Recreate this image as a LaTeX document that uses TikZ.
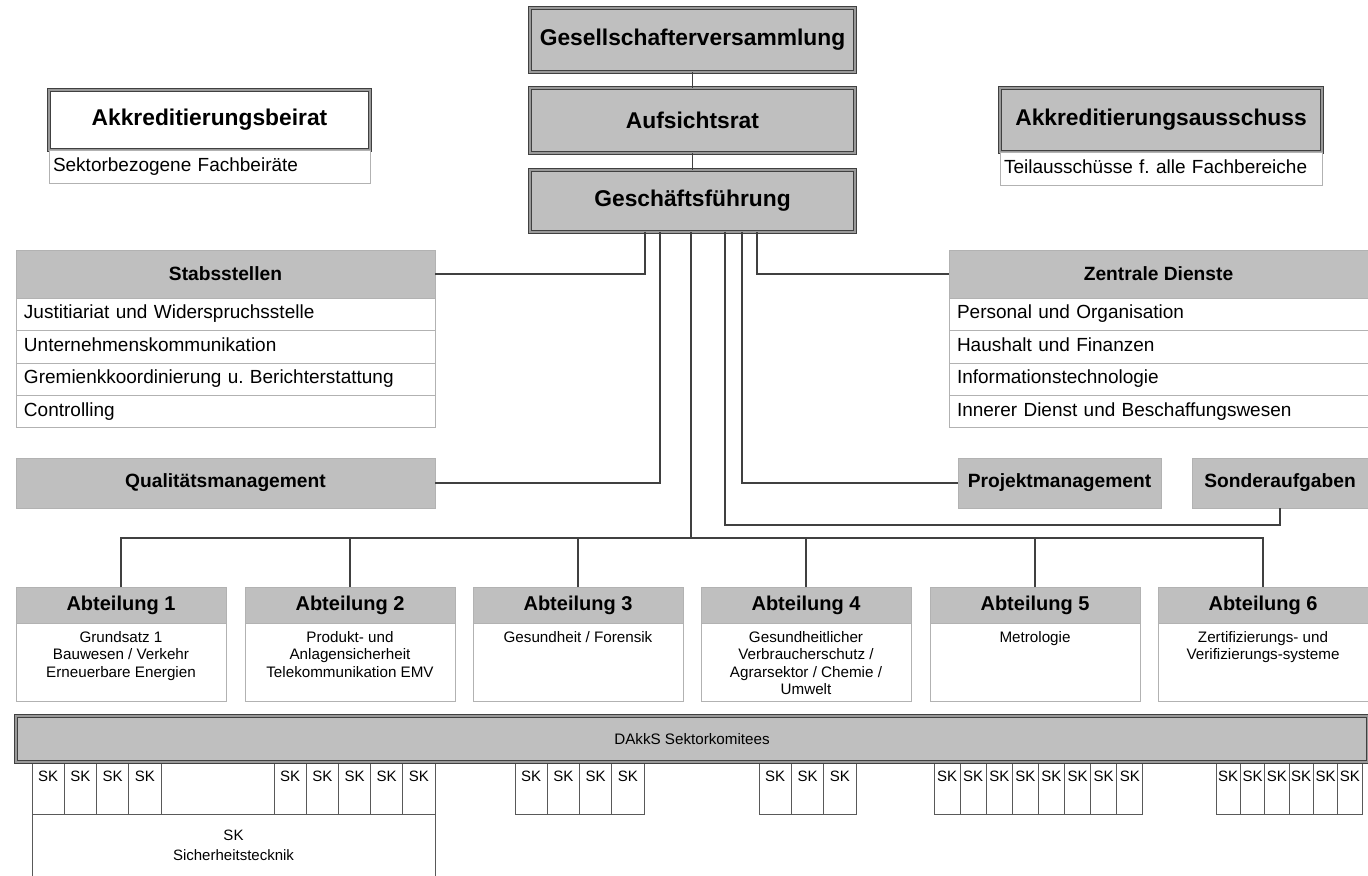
\documentclass[tikz,border=0pt]{standalone}
\usepackage{fontspec}
\setmainfont{Liberation Sans}
\usetikzlibrary{positioning}
\newlength{\unitpx}\setlength{\unitpx}{0.5pt}
\frenchspacing

\begin{document}
\begin{tikzpicture}[x=0.5pt,y=-0.5pt]
	\def \headrow{250}
	\def \qmrow{458}
	\def \busline{538}
	\def \abtrow{587}
	\def \skrow{762}
	\tikzstyle{top-box}=[draw=black!75,double=black!40,double distance=0.7pt,line width=0.55pt,fill=black!25,anchor=north west,inner sep=0pt,outer sep=0pt,font=\bfseries\fontsize{11.4}{13}\selectfont]
	\tikzstyle{unit-box}=[draw=black!30,line width=0.4pt,fill=black!25,anchor=north west,inner sep=0pt,outer sep=0pt,font=\bfseries\fontsize{9.6}{11}\selectfont]
	\tikzstyle{row-box}=[draw=black!30,line width=0.4pt,fill=white,anchor=north west,inner ysep=0pt,inner xsep=4pt,outer sep=0pt,align=left,text height=7pt,text depth=2pt,font=\fontsize{9.5}{11}\selectfont]
	\tikzstyle{abt-head}=[unit-box,minimum width=210\unitpx,minimum height=36\unitpx,font=\bfseries\fontsize{10}{12}\selectfont]
	\tikzstyle{abt-body}=[draw=black!30,line width=0.4pt,fill=white,anchor=north west,inner sep=0pt,outer sep=0pt,minimum width=210\unitpx,minimum height=78\unitpx]
	\tikzstyle{abt-txt}=[inner sep=0pt,align=center,font=\fontsize{7.6}{8.75}\selectfont]
	\tikzstyle{sk-box}=[draw=black!65,line width=0.4pt,fill=white,anchor=north west,inner sep=0pt,outer sep=0pt,minimum height=52\unitpx,text height=6pt,text depth=12.5pt,font=\fontsize{7.5}{9}\selectfont]
	\tikzstyle{sk-big}=[draw=black!65,line width=0.4pt,fill=white,anchor=north west,inner sep=0pt,outer sep=0pt,align=center,font=\fontsize{7.5}{10}\selectfont]
	\tikzstyle{link}=[draw=black!75,line width=0.6pt]
	\useasboundingbox (0,0) rectangle (1368,876);

	% Gremien
	\node[top-box,minimum width=325\unitpx,minimum height=64\unitpx] (gv) at (530,8) {Gesellschafterversammlung};
	\node[top-box,minimum width=325\unitpx,minimum height=65\unitpx] (ar) at (530,88) {Aufsichtsrat};
	\node[top-box,minimum width=325\unitpx,minimum height=62\unitpx] (gf) at (530,170) {Geschäftsführung};

	\node[top-box,fill=white,minimum width=321\unitpx,minimum height=60\unitpx] (ab) at (49,90) {Akkreditierungsbeirat};
	\node[row-box,inner xsep=2pt,text width=313\unitpx,minimum height=33\unitpx] (ab-1) at (49,150) {Sektorbezogene Fachbeiräte};
	\node[top-box,minimum width=322\unitpx,minimum height=64\unitpx] (aa) at (1000,88) {Akkreditierungsausschuss};
	\node[row-box,inner xsep=2pt,text width=314\unitpx,minimum height=33\unitpx] (aa-1) at (1000,152) {Teilausschüsse f. alle Fachbereiche};

	% Stabsstellen
	\node[unit-box,minimum width=419\unitpx,minimum height=48\unitpx] (stab) at (16,\headrow) {Stabsstellen};
	\node[row-box,text width=403\unitpx,minimum height=32\unitpx] (stab-1) at (16,298) {Justitiariat und Widerspruchsstelle};
	\node[row-box,text width=403\unitpx,minimum height=33\unitpx] (stab-2) at (16,330) {Unternehmenskommunikation};
	\node[row-box,text width=403\unitpx,minimum height=32\unitpx] (stab-3) at (16,363) {Gremienkkoordinierung u. Berichterstattung};
	\node[row-box,text width=403\unitpx,minimum height=32\unitpx] (stab-4) at (16,395) {Controlling};
	\node[unit-box,minimum width=419\unitpx,minimum height=50\unitpx] (qm) at (16,\qmrow) {Qualitätsmanagement};

	% Zentrale Dienste
	\node[unit-box,minimum width=419\unitpx,minimum height=48\unitpx] (zd) at (949,\headrow) {Zentrale Dienste};
	\node[row-box,text width=403\unitpx,minimum height=32\unitpx] (zd-1) at (949,298) {Personal und Organisation};
	\node[row-box,text width=403\unitpx,minimum height=33\unitpx] (zd-2) at (949,330) {Haushalt und Finanzen};
	\node[row-box,text width=403\unitpx,minimum height=32\unitpx] (zd-3) at (949,363) {Informationstechnologie};
	\node[row-box,text width=403\unitpx,minimum height=32\unitpx] (zd-4) at (949,395) {Innerer Dienst und Beschaffungswesen};
	\node[unit-box,minimum width=203\unitpx,minimum height=50\unitpx] (pm) at (958,\qmrow) {Projektmanagement};
	\node[unit-box,minimum width=176\unitpx,minimum height=50\unitpx] (sa) at (1192,\qmrow) {Sonderaufgaben};

	% Abteilungen
	\node[abt-head] (a1) at (16,\abtrow) {Abteilung 1};
	\node[abt-head] (a2) at (245,\abtrow) {Abteilung 2};
	\node[abt-head] (a3) at (473,\abtrow) {Abteilung 3};
	\node[abt-head] (a4) at (701,\abtrow) {Abteilung 4};
	\node[abt-head] (a5) at (930,\abtrow) {Abteilung 5};
	\node[abt-head] (a6) at (1158,\abtrow) {Abteilung 6};
	\node[abt-body] (a1-box) at (16,623) {};
	\node[abt-body] (a2-box) at (245,623) {};
	\node[abt-body] (a3-box) at (473,623) {};
	\node[abt-body] (a4-box) at (701,623) {};
	\node[abt-body] (a5-box) at (930,623) {};
	\node[abt-body] (a6-box) at (1158,623) {};
	\node[abt-txt,below=8\unitpx of a1-box.north] (a1-txt) {Grundsatz 1\\Bauwesen / Verkehr\\Erneuerbare Energien};
	\node[abt-txt,below=8\unitpx of a2-box.north] (a2-txt) {Produkt- und\\Anlagensicherheit\\Telekommunikation EMV};
	\node[abt-txt,below=8\unitpx of a3-box.north] (a3-txt) {Gesundheit / Forensik};
	\node[abt-txt,below=8\unitpx of a4-box.north] (a4-txt) {Gesundheitlicher\\Verbraucherschutz /\\Agrarsektor / Chemie /\\Umwelt};
	\node[abt-txt,below=8\unitpx of a5-box.north] (a5-txt) {Metrologie};
	\node[abt-txt,below=8\unitpx of a6-box.north] (a6-txt) {Zertifizierungs- und\\Verifizierungs-systeme};

	% Sektorkomitees
	\node[sk-big,minimum width=403\unitpx,minimum height=62\unitpx] (sk-st) at (32,814) {SK\\Sicherheitstecknik};
	\foreach \i in {0,...,3}
		\node[sk-box,minimum width=32.25\unitpx] (sk-a\i) at ({32+\i*32.25},\skrow) {SK};
	\foreach \i in {0,...,4}
		\node[sk-box,minimum width=32.2\unitpx] (sk-b\i) at ({274+\i*32.2},\skrow) {SK};
	\foreach \i in {0,...,3}
		\node[sk-box,minimum width=32.25\unitpx] (sk-c\i) at ({515+\i*32.25},\skrow) {SK};
	\foreach \i in {0,...,2}
		\node[sk-box,minimum width=32.33\unitpx] (sk-d\i) at ({759+\i*32.33},\skrow) {SK};
	\foreach \i in {0,...,7}
		\node[sk-box,minimum width=26.1\unitpx] (sk-e\i) at ({934+\i*26.1},\skrow) {SK};
	\foreach \i in {0,...,5}
		\node[sk-box,minimum width=24.33\unitpx] (sk-f\i) at ({1216+\i*24.33},\skrow) {SK};
	\node[top-box,font=\fontsize{7.6}{9}\selectfont,minimum width=1352\unitpx,minimum height=46\unitpx] (dakks) at (16,716) {DAkkS Sektorkomitees};

	% Verbindungen
	\coordinate (bus) at (691,\busline);
	\coordinate (sa-knee) at (1280,525);
	\draw[link] (gv) -- (ar);
	\draw[link] (ar) -- (gf);
	\draw[link] (gf.south west) ++(115,0) |- (stab.east);
	\draw[link] (gf.south west) ++(130,0) |- (qm.east);
	\draw[link] (gf.south west) ++(161,0) -- (bus);
	\draw[link] (gf.south west) ++(195,0) |- (sa-knee) -- (sa.south);
	\draw[link] (gf.south west) ++(212,0) |- (pm.west);
	\draw[link] (gf.south west) ++(227,0) |- (zd.west);
	\draw[link] (a1.north) |- (bus) -| (a6.north);
	\foreach \n in {a2,a3,a4,a5}
		\draw[link] (\n.north) -- (\n.north |- bus);
\end{tikzpicture}
\end{document}
